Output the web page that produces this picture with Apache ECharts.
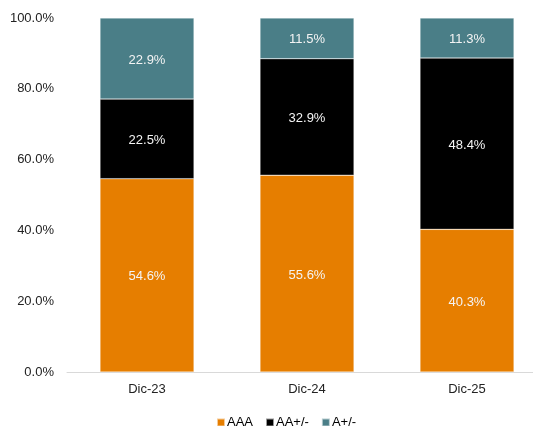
<!DOCTYPE html>
<html>
<head>
<meta charset="utf-8">
<script src="https://cdn.jsdelivr.net/npm/echarts@6/dist/echarts.min.js"></script>
<style>
  html, body { margin: 0; padding: 0; background: #fff; overflow: hidden; width: 533px; height: 426px; }
  /* the plot runs slightly past the right edge of the view */
  #chart { width: 547px; height: 426px; }
</style>
</head>
<body>
<div id="chart"></div>
<script>
// Rating mix by period (percent of total)
const categories = ['Dic-23', 'Dic-24', 'Dic-25'];
const seriesNames = ['AAA', 'AA+/-', 'A+/-'];
const aaa = [54.6, 55.6, 40.3];
const aaPm = [22.5, 32.9, 48.4];
const aPm = [22.9, 11.5, 11.3];
const yTicks = [0, 20, 40, 60, 80, 100];

const colors = ['#E67E00', '#000000', '#4A7E87'];
const values = [aaa, aaPm, aPm];

const chart = echarts.init(document.getElementById('chart'), null, { renderer: 'canvas' });

const font = 'Liberation Sans, Arial, sans-serif';

chart.setOption({
  animation: false,
  grid: { left: 67, right: 0, top: 18, bottom: 54, containLabel: false },
  legend: {
    top: 416,
    left: 216,
    padding: 0,
    itemWidth: 8,
    itemHeight: 8,
    itemGap: 12,
    icon: 'rect',
    textStyle: { fontFamily: font, fontSize: 13, color: '#000', padding: [0, 0, 0, -3] },
    data: seriesNames
  },
  xAxis: {
    type: 'category',
    data: categories,
    axisLine: { lineStyle: { color: '#D9D9D9', width: 1 } },
    axisTick: { show: false },
    axisLabel: { fontFamily: font, fontSize: 13, color: '#222', margin: 11 }
  },
  yAxis: {
    type: 'value',
    min: yTicks[0],
    max: yTicks[yTicks.length - 1],
    interval: yTicks[1] - yTicks[0],
    splitLine: { show: false },
    axisLine: { show: false },
    axisTick: { show: false },
    axisLabel: {
      fontFamily: font, fontSize: 13, color: '#222', margin: 13,
      formatter: v => v.toFixed(1) + '%'
    }
  },
  series: seriesNames.map((name, i) => ({
    name,
    type: 'bar',
    stack: 'total',
    barWidth: 94,
    data: values[i],
    itemStyle: { color: colors[i], borderColor: 'rgba(255,255,255,0.6)', borderWidth: 0.5 },
    label: {
      show: true,
      position: 'inside',
      offset: [0, 1.5],
      fontFamily: font,
      fontSize: 13,
      color: '#F4F4F4',
      formatter: p => p.value.toFixed(1) + '%'
    }
  }))
});
</script>
</body>
</html>
